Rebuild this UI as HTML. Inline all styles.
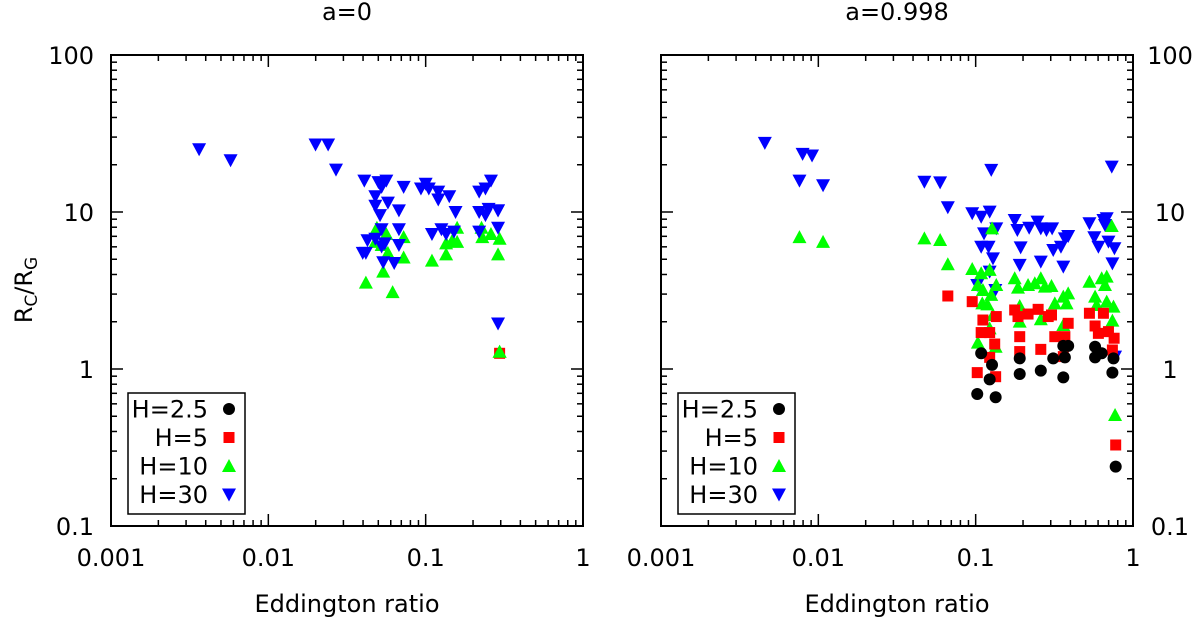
<!DOCTYPE html>
<html><head><meta charset="utf-8"><style>
body{margin:0;background:#fff;}
svg{font-family:"DejaVu Sans","Liberation Sans",sans-serif;}
</style></head><body>
<svg id="c" width="1200" height="622" viewBox="0 0 1200 622"></svg>
<script>
// data stored as log10(Eddington ratio), log10(Rc/Rg)
const leftBlueX=[-2.44,-2.24,-1.70,-1.62,-1.57,-1.39,-1.30,-1.28,-1.25,-1.32,-1.24,-1.14,-1.03,-1.00,-0.92,-0.85,-0.98,-0.81,-0.92,-0.66,-0.62,-0.585,-0.66,-0.62,-0.60,-0.54,-1.32,-1.29,-1.28,-1.32,-1.28,-1.17,-1.17,-1.17,-1.40,-1.37,-1.27,-0.96,-0.90,-0.87,-0.82,-0.66,-0.54,-0.54,-0.54,-1.20,-1.38,-1.26];
const leftBlueY=[1.40,1.33,1.43,1.43,1.27,1.20,1.19,1.16,1.20,1.10,1.06,1.16,1.15,1.18,1.13,1.10,1.15,1.00,1.08,1.13,1.15,1.20,1.00,0.98,1.02,1.01,1.04,0.98,0.89,0.83,0.78,1.01,0.89,0.79,0.74,0.82,0.68,0.86,0.89,0.86,0.875,0.875,1.01,0.90,0.29,0.675,0.74,0.80];
const leftGreenX=[-1.31,-1.25,-1.32,-1.28,-1.24,-1.27,-1.38,-1.21,-1.14,-1.14,-0.96,-0.87,-0.83,-0.80,-0.87,-0.80,-0.645,-0.64,-0.585,-0.53,-0.54,-0.53];
const leftGreenY=[0.90,0.86,0.81,0.79,0.74,0.62,0.55,0.49,0.84,0.71,0.69,0.80,0.82,0.90,0.73,0.81,0.90,0.84,0.86,0.83,0.73,0.11];
const leftRedX=[-0.53];
const leftRedY=[0.10];
const rightBlueX=[-2.34,-2.10,-2.04,-2.12,-1.97,-1.326,-1.226,-1.177,-0.901,-1.022,-0.965,-0.911,-0.947,-0.965,-0.918,-0.890,-0.869,-0.911,-0.990,-0.875,-0.752,-0.735,-0.714,-0.720,-0.660,-0.607,-0.586,-0.550,-0.514,-0.586,-0.507,-0.458,-0.433,-0.412,-0.443,-0.277,-0.246,-0.220,-0.188,-0.167,-0.178,-0.156,-0.118,-0.131,-0.135,-0.114];
const rightBlueY=[1.44,1.37,1.36,1.20,1.17,1.193,1.189,1.030,1.268,0.992,0.970,1.002,0.864,0.779,0.779,0.705,0.896,0.620,0.535,0.503,0.949,0.885,0.775,0.663,0.900,0.939,0.896,0.885,0.896,0.684,0.758,0.779,0.832,0.847,0.652,0.928,0.839,0.779,0.949,0.960,0.917,0.811,0.769,0.673,1.289,0.079];
const rightGreenX=[-2.12,-1.97,-1.326,-1.226,-1.177,-1.022,-0.965,-0.911,-0.896,-0.986,-0.954,-0.901,-0.958,-0.926,-0.890,-0.911,-0.986,-0.873,-0.869,-0.752,-0.731,-0.667,-0.624,-0.586,-0.560,-0.518,-0.497,-0.443,-0.422,-0.412,-0.443,-0.720,-0.720,-0.586,-0.277,-0.241,-0.231,-0.199,-0.167,-0.178,-0.167,-0.124,-0.131,-0.135,-0.114];
const rightGreenY=[0.84,0.81,0.832,0.822,0.667,0.637,0.610,0.631,0.896,0.535,0.503,0.472,0.418,0.412,0.344,0.259,0.168,0.142,0.535,0.578,0.518,0.535,0.546,0.578,0.525,0.529,0.418,0.461,0.418,0.482,0.280,0.401,0.302,0.317,0.556,0.461,0.408,0.578,0.588,0.535,0.429,0.397,0.308,0.911,-0.293];
const rightRedX=[-1.177,-1.022,-0.954,-0.869,-0.965,-0.911,-0.879,-0.752,-0.731,-0.667,-0.603,-0.539,-0.518,-0.412,-0.497,-0.433,-0.720,-0.720,-0.586,-0.443,-0.277,-0.241,-0.188,-0.220,-0.156,-0.120,-0.131,-0.911,-0.990,-0.873,-0.110];
const rightRedY=[0.465,0.429,0.312,0.334,0.232,0.232,0.159,0.376,0.334,0.350,0.380,0.334,0.344,0.291,0.206,0.206,0.206,0.111,0.125,0.079,0.355,0.274,0.355,0.227,0.238,0.196,0.121,0.074,-0.023,-0.049,-0.484];
const rightBlackX=[-0.965,-0.896,-0.911,-0.990,-0.873,-0.720,-0.720,-0.586,-0.507,-0.443,-0.412,-0.433,-0.443,-0.241,-0.241,-0.199,-0.124,-0.131,-0.110];
const rightBlackY=[0.100,0.026,-0.066,-0.159,-0.180,0.068,-0.032,-0.010,0.068,0.147,0.147,0.074,-0.053,0.142,0.074,0.100,0.068,-0.023,-0.622];
const xTicks=["0.001","0.01","0.1","1"];
const yTicks=["100","10","1","0.1"];

const NS="http://www.w3.org/2000/svg";
const svg=document.getElementById('c');
function mk(tag,attrs,parent){const e=document.createElementNS(NS,tag);for(const k in attrs)e.setAttribute(k,attrs[k]);(parent||svg).appendChild(e);return e;}
const T=55,B=526,FS=24;
function panel(x0,x1,title,yLabelSide,name){
  const g=mk('g',{});
  
  
  const sx=l=>x0+(l+3)/3*(x1-x0);
  const sy=l=>T+(2-l)/3*(B-T);
  for(let d=-3;d<=0;d++){
    for(let m=1;m<10;m++){
      const l=d+Math.log10(m); if(l>0)break;
      const X=sx(l),len=m==1?12:6;
      const t=mk('line',{x1:X,x2:X,y1:B,y2:B-len,stroke:'#000','stroke-width':1.5},g);
      
      
      mk('line',{x1:X,x2:X,y1:T,y2:T+len,stroke:'#000','stroke-width':1.5},g);
    }
  }
  for(let d=-1;d<=2;d++){
    for(let m=1;m<10;m++){
      const l=d+Math.log10(m); if(l>2)break;
      const Y=sy(l),len=m==1?12:6;
      mk('line',{x1:x0,x2:x0+len,y1:Y,y2:Y,stroke:'#000','stroke-width':1.5},g);
      mk('line',{x1:x1,x2:x1-len,y1:Y,y2:Y,stroke:'#000','stroke-width':1.5},g);
    }
  }
  const fr=mk('rect',{x:x0,y:T,width:x1-x0,height:B-T,fill:'none',stroke:'#000','stroke-width':2},g);
  
  
  xTicks.forEach((s,i)=>{const t=mk('text',{x:sx(i-3),y:566,'font-size':FS,'text-anchor':'middle'},g);t.textContent=s;
    
    });
  yTicks.forEach((s,i)=>{const lx=yLabelSide=='left'?94:1170;
    const t=mk('text',{x:lx,y:sy(2-i)+9,'font-size':FS,'text-anchor':yLabelSide=='left'?'end':'middle'},g);t.textContent=s;
    
    });
  const tt=mk('text',{x:(x0+x1)/2,y:20,'font-size':FS,'text-anchor':'middle'},g);tt.textContent=title;
  
  
  const xt=mk('text',{x:(x0+x1)/2,y:612,'font-size':FS,'text-anchor':'middle'},g);xt.textContent='Eddington ratio';
  
  
  return {g,sx,sy};
}
function marker(g,type,X,Y){
  let e;
  if(type=='black'){e=mk('circle',{cx:X,cy:Y,r:6,fill:'#000'},g);}
  else if(type=='red'){e=mk('rect',{x:X-5.5,y:Y-5.5,width:11,height:11,fill:'#f00'},g);}
  else if(type=='green'){e=mk('polygon',{points:`${X-7},${Y+6} ${X+7},${Y+6} ${X},${Y-7}`,fill:'#0f0'},g);}
  else {e=mk('polygon',{points:`${X-7},${Y-6} ${X+7},${Y-6} ${X},${Y+7}`,fill:'#00f'},g);}
  return e;
}
function series(p,xs,ys,type){
  xs.forEach((x,i)=>{const e=marker(p.g,type,p.sx(x),p.sy(ys[i]));
    
    });
}
function legend(g,x){
  const r=mk('rect',{x:x,y:393,width:117,height:121,fill:'#fff',stroke:'#000','stroke-width':1.5},g);
  
  
  const labs=['H=2.5','H=5','H=10','H=30'],types=['black','red','green','blue'];
  labs.forEach((s,i)=>{const Y=409+i*28.5;
    const t=mk('text',{x:x+80,y:Y+8.5,'font-size':FS,'text-anchor':'end'},g);t.textContent=s;
    
    
    const m=marker(g,types[i],x+101,Y);
    
    });
}
const L=panel(111,583,'a=0','left','left-panel');
series(L,leftGreenX,leftGreenY,'green');
series(L,leftBlueX,leftBlueY,'blue');
series(L,leftRedX,leftRedY,'red');
series(L,leftGreenX.slice(-1),leftGreenY.slice(-1),'green');
legend(L.g,128);
const R=panel(661,1133,'a=0.998','right','right-panel');
series(R,rightBlueX,rightBlueY,'blue');
series(R,rightGreenX,rightGreenY,'green');
series(R,rightRedX,rightRedY,'red');
series(R,rightBlackX,rightBlackY,'black');
legend(R.g,678);
const yl=mk('text',{x:0,y:0,'font-size':FS,'text-anchor':'middle',transform:'translate(32,290) rotate(-90)'});


yl.innerHTML='R<tspan font-size="17" dy="5">C</tspan><tspan dy="-5">/R</tspan><tspan font-size="17" dy="5">G</tspan>';
</script>
</body></html>
